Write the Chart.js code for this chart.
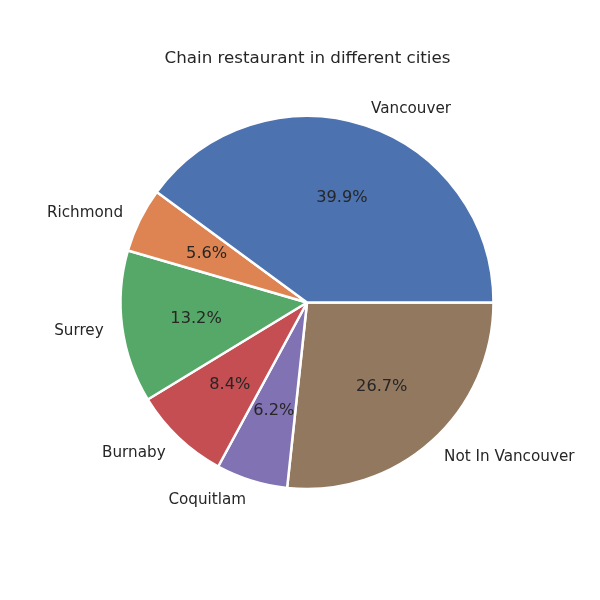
<!DOCTYPE html>
<html>
<head>
<meta charset="utf-8">
<script src="https://cdn.jsdelivr.net/npm/chart.js@4/dist/chart.umd.min.js"></script>
<style>
html,body{margin:0;padding:0;background:#fff;}
#wrap{width:600px;height:600px;position:relative;}
</style>
</head>
<body>
<div id="wrap"><canvas id="c" width="600" height="600"></canvas></div>
<script>
const title = "Chain restaurant in different cities";
const categories = ["Vancouver", "Richmond", "Surrey", "Burnaby", "Coquitlam", "Not In Vancouver"];
const shares = [39.9, 5.6, 13.2, 8.4, 6.2, 26.7];
const colors = ["#4C72B0", "#DD8452", "#55A868", "#C44E52", "#8172B3", "#937860"];

// matplotlib draws counter-clockwise from 3 o'clock; Chart.js draws clockwise,
// so feed the slices in reverse order starting at 3 o'clock.
const rev = a => a.slice().reverse();

const labelPlugin = {
  id: 'mplLabels',
  afterDraw(chart) {
    const ctx = chart.ctx;
    ctx.save();
    ctx.fillStyle = '#262626';
    ctx.font = '16.7px "DejaVu Sans"';
    ctx.textAlign = 'center';
    ctx.textBaseline = 'middle';
    ctx.fillText(title, 307.5, 59);
    const meta = chart.getDatasetMeta(0);
    const labs = chart.data.labels;
    const vals = chart.data.datasets[0].data;
    meta.data.forEach((arc, i) => {
      const p = arc.getProps(['x','y','startAngle','endAngle','outerRadius'], true);
      const mid = (p.startAngle + p.endAngle) / 2;
      const r = p.outerRadius;
      const cx = Math.cos(mid), cy = Math.sin(mid);
      ctx.font = '15.2px "DejaVu Sans"';
      ctx.textBaseline = 'middle';
      ctx.textAlign = cx >= 0 ? 'left' : 'right';
      ctx.fillText(labs[i], p.x + 1.1 * r * cx, p.y + 1.1 * r * cy + 1.5);
      ctx.font = '16.2px "DejaVu Sans"';
      ctx.textAlign = 'center';
      ctx.fillText(vals[i].toFixed(1) + '%', p.x + 0.6 * r * cx, p.y + 0.6 * r * cy + 1.2);
    });
    ctx.restore();
  }
};

new Chart(document.getElementById('c'), {
  type: 'pie',
  data: {
    labels: rev(categories),
    datasets: [{
      data: rev(shares),
      backgroundColor: rev(colors),
      borderColor: '#ffffff',
      borderWidth: 2.5,
      borderAlign: 'center'
    }]
  },
  options: {
    responsive: false,
    animation: false,
    rotation: 90,
    layout: { padding: { left: 119.25, right: 105.25, top: 114.75, bottom: 109.75 } },
    plugins: { legend: { display: false }, title: { display: false }, tooltip: { enabled: false } }
  },
  plugins: [labelPlugin]
});
</script>
</body>
</html>
